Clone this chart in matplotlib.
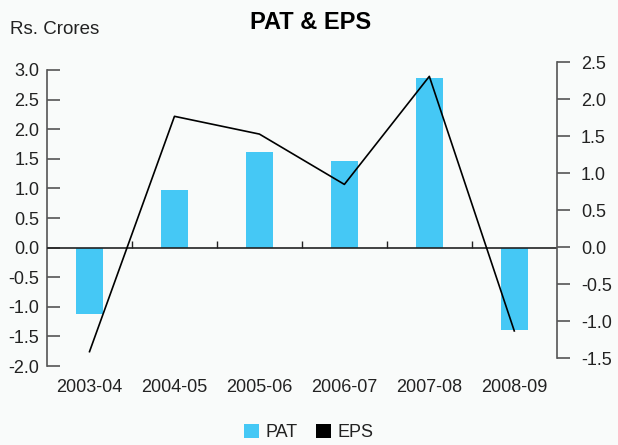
import matplotlib.pyplot as plt
from matplotlib.patches import Patch

years = ["2003-04", "2004-05", "2005-06", "2006-07", "2007-08", "2008-09"]
pat = [-1.12, 0.97, 1.62, 1.46, 2.87, -1.40]
eps = [-1.41, 1.77, 1.53, 0.85, 2.31, -1.13]
left_ticks = [-2.0, -1.5, -1.0, -0.5, 0.0, 0.5, 1.0, 1.5, 2.0, 2.5, 3.0]
right_ticks = [-1.5, -1.0, -0.5, 0.0, 0.5, 1.0, 1.5, 2.0, 2.5]

bg = "#f9fbfa"
bar_color = "#45c8f5"
plt.rcParams["font.family"] = ["Liberation Sans", "DejaVu Sans"]

fig = plt.figure(figsize=(6.18, 4.45), dpi=100, facecolor=bg)
x = list(range(len(years)))

# left axis (PAT bars)
ax1 = fig.add_axes([0.0761, 0.1775, 0.8248, 0.6652])
ax1.set_facecolor(bg)
ax1.bar(x, pat, width=0.32, color=bar_color, zorder=2)
ax1.set_xlim(-0.5, len(years) - 0.5)
ax1.set_ylim(-2.0, 3.0)
ax1.set_yticks(left_ticks)
ax1.set_yticklabels([f"{t:.1f}" for t in left_ticks])
ax1.tick_params(axis="y", direction="in", length=9, width=1.2, color="#555555",
                pad=5.5, labelsize=13, labelcolor="#222222")
ax1.set_xticks(x)
ax1.set_xticklabels(years)
ax1.tick_params(axis="x", length=0, pad=9, labelsize=13, labelcolor="#222222")
for side in ["top", "right", "bottom"]:
    ax1.spines[side].set_visible(False)
ax1.spines["left"].set_color("#555555")
ax1.spines["left"].set_linewidth(1.2)
ax1.axhline(0, color="#222222", linewidth=1.2, zorder=3)
ax1.vlines([i + 0.5 for i in x[:-1]], 0, 0.12, color="#222222", linewidth=1, zorder=3)

# right axis (EPS line)
ax2 = fig.add_axes([0.0761, 0.1948, 0.8248, 0.6652])
ax2.patch.set_visible(False)
ax2.plot(x, eps, color="black", linewidth=1.2, zorder=4)
ax2.set_xlim(-0.5, len(years) - 0.5)
ax2.set_ylim(-1.5, 2.5)
ax2.set_yticks(right_ticks)
ax2.set_yticklabels([f"{t:.1f}" for t in right_ticks])
ax2.yaxis.tick_right()
ax2.tick_params(axis="y", direction="out", length=9.5, width=1.2, color="#555555",
                pad=8, labelsize=13, labelcolor="#222222")
ax2.set_xticks([])
for side in ["top", "left", "bottom"]:
    ax2.spines[side].set_visible(False)
ax2.spines["right"].set_color("#555555")
ax2.spines["right"].set_linewidth(1.2)

fig.text(0.502, 0.95, "PAT & EPS", ha="center", va="center", fontsize=17,
         fontweight="bold", color="black")
fig.text(0.016, 0.933, "Rs. Crores", ha="left", va="center", fontsize=13.5, color="#222222")

handles = [Patch(facecolor=bar_color, label="PAT"), Patch(facecolor="black", label="EPS")]
fig.legend(handles=handles, loc="center", bbox_to_anchor=(0.5, 0.028), ncol=2,
           frameon=False, fontsize=13, handlelength=0.8, handleheight=0.8,
           handletextpad=0.4, columnspacing=1.0, labelcolor="#222222")

fig.savefig("out.png", dpi=100, facecolor=bg)
